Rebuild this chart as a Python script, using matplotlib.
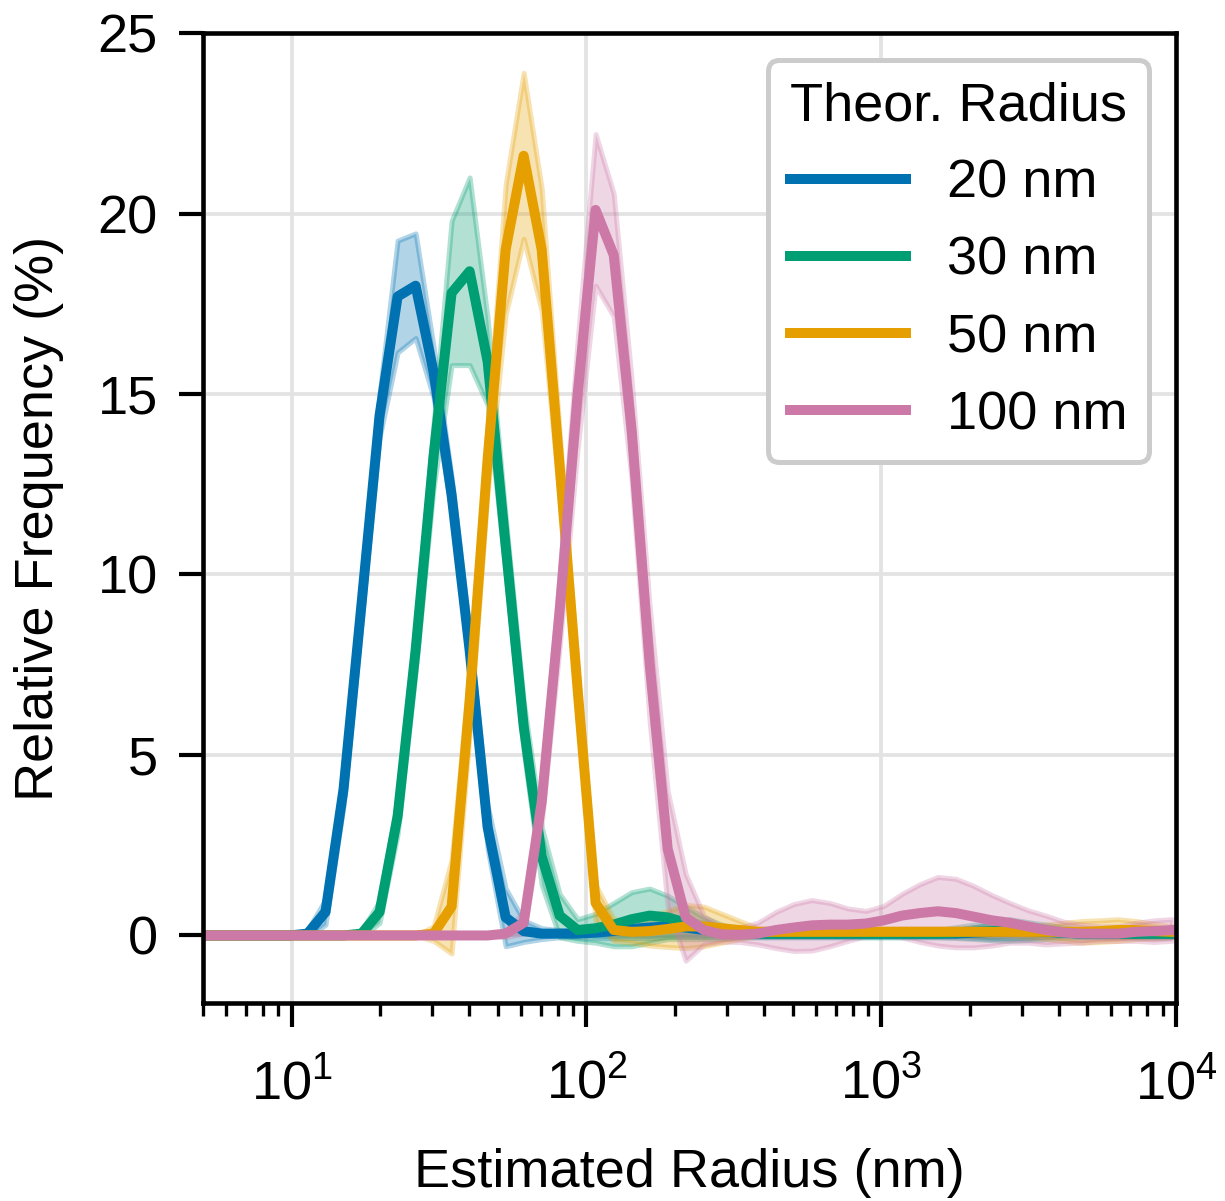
import matplotlib
matplotlib.use("Agg")
import matplotlib.pyplot as plt
import numpy as np

plt.rcParams['font.family'] = ['Liberation Sans', 'DejaVu Sans']
plt.rcParams['mathtext.fontset'] = 'custom'
plt.rcParams['mathtext.rm'] = 'Liberation Sans'
plt.rcParams['mathtext.it'] = 'Liberation Sans:italic'
plt.rcParams['mathtext.bf'] = 'Liberation Sans:bold'

# radius bins (nm)
radius = [4.86, 5.60, 6.45, 7.42, 8.54, 9.83, 11.31, 13.02, 14.99, 17.26,
          19.86, 22.87, 26.32, 30.30, 34.87, 40.14, 46.20, 53.19, 61.22, 70.47,
          81.10, 93.35, 107.4, 123.7, 142.3, 163.9, 188.6, 217.1, 249.9, 287.6,
          331.1, 381.1, 438.7, 505.0, 581.2, 669.0, 770.1, 886.4, 1020, 1175,
          1352, 1556, 1791, 2062, 2373, 2732, 3144, 3619, 4166, 4795,
          5521, 6354, 7314, 8419, 9692]

labels = ["20 nm", "30 nm", "50 nm", "100 nm"]
colors = ["#0072B2", "#009E73", "#E69F00", "#CC79A7"]

# mean relative frequency (%) per bin
mean_20 = [0, 0, 0, 0, 0, 0, 0.05, 0.65, 4.05, 9.2,
           14.4, 17.7, 18.0, 15.6, 12.2, 7.9, 3.0, 0.5, 0.12, 0.05,
           0.05, 0.05, 0.08, 0.12, 0.18, 0.22, 0.25, 0.22, 0.15, 0.1,
           0.05, 0.05, 0.05, 0.05, 0.05, 0.05, 0.05, 0.05, 0.05, 0.05,
           0.05, 0.05, 0.05, 0.08, 0.1, 0.12, 0.12, 0.1, 0.08, 0.05,
           0.05, 0.05, 0.05, 0.05, 0.05]
mean_30 = [0, 0, 0, 0, 0, 0, 0, 0, 0, 0.05,
           0.65, 3.3, 7.9, 13.3, 17.8, 18.4, 15.9, 10.8, 5.8, 2.2,
           0.55, 0.15, 0.2, 0.3, 0.45, 0.55, 0.5, 0.35, 0.2, 0.1,
           0.05, 0.05, 0.05, 0.05, 0.05, 0.05, 0.05, 0.05, 0.05, 0.05,
           0.05, 0.05, 0.08, 0.1, 0.12, 0.15, 0.12, 0.1, 0.08, 0.05,
           0.05, 0.05, 0.05, 0.05, 0.05]
mean_50 = [0, 0, 0, 0, 0, 0, 0, 0, 0, 0,
           0, 0, 0, 0.05, 0.8, 6.5, 13.2, 19.0, 21.6, 19.0,
           13.0, 6.8, 0.9, 0.15, 0.1, 0.12, 0.18, 0.25, 0.25, 0.2,
           0.15, 0.1, 0.1, 0.1, 0.1, 0.1, 0.1, 0.1, 0.1, 0.1,
           0.1, 0.1, 0.1, 0.1, 0.1, 0.1, 0.1, 0.1, 0.1, 0.1,
           0.12, 0.15, 0.15, 0.12, 0.1]
mean_100 = [0, 0, 0, 0, 0, 0, 0, 0, 0, 0,
            0, 0, 0, 0, 0, 0, 0, 0.05, 0.35, 3.7,
            9.0, 15.0, 20.1, 18.85, 14.0, 7.5, 2.4, 0.5, 0.15, 0.03,
            0.02, 0.05, 0.15, 0.22, 0.28, 0.3, 0.3, 0.33, 0.42, 0.55,
            0.62, 0.67, 0.62, 0.52, 0.42, 0.35, 0.25, 0.15, 0.08, 0.05,
            0.05, 0.05, 0.1, 0.12, 0.15]

# standard deviation per bin
sd_20 = [0, 0, 0, 0, 0, 0, 0.1, 0.35, 0.45, 0.5,
         0.6, 1.55, 1.45, 0.7, 0.5, 0.5, 0.6, 0.8, 0.3, 0.15,
         0.1, 0.1, 0.15, 0.2, 0.25, 0.3, 0.3, 0.25, 0.2, 0.15,
         0.1, 0.1, 0.1, 0.1, 0.1, 0.1, 0.1, 0.1, 0.1, 0.1,
         0.1, 0.1, 0.1, 0.15, 0.2, 0.2, 0.2, 0.15, 0.1, 0.1,
         0.1, 0.1, 0.1, 0.1, 0.1]
sd_30 = [0, 0, 0, 0, 0, 0, 0, 0, 0, 0.1,
         0.3, 0.5, 0.6, 0.9, 2.0, 2.6, 1.2, 0.8, 0.7, 0.8,
         0.6, 0.3, 0.4, 0.6, 0.75, 0.75, 0.6, 0.45, 0.3, 0.2,
         0.1, 0.1, 0.1, 0.1, 0.1, 0.1, 0.1, 0.1, 0.1, 0.1,
         0.1, 0.1, 0.15, 0.2, 0.25, 0.3, 0.25, 0.2, 0.15, 0.1,
         0.1, 0.1, 0.1, 0.1, 0.1]
sd_50 = [0, 0, 0, 0, 0, 0, 0, 0, 0, 0,
         0, 0, 0, 0.2, 1.3, 0.9, 0.9, 1.8, 2.3, 1.7,
         0.9, 0.6, 0.5, 0.3, 0.3, 0.4, 0.5, 0.6, 0.55, 0.4,
         0.25, 0.1, 0.1, 0.1, 0.1, 0.1, 0.1, 0.1, 0.1, 0.1,
         0.1, 0.1, 0.1, 0.1, 0.1, 0.1, 0.15, 0.2, 0.25, 0.3,
         0.3, 0.3, 0.25, 0.2, 0.15]
sd_100 = [0, 0, 0, 0, 0, 0, 0, 0, 0, 0,
          0, 0, 0, 0, 0, 0, 0, 0.1, 0.3, 0.6,
          1.0, 1.5, 2.1, 1.7, 1.4, 1.6, 1.6, 1.2, 0.4, 0.2,
          0.2, 0.3, 0.5, 0.65, 0.7, 0.6, 0.45, 0.35, 0.4, 0.6,
          0.8, 0.95, 0.95, 0.85, 0.7, 0.55, 0.45, 0.4, 0.3, 0.25,
          0.2, 0.2, 0.25, 0.3, 0.3]

means = [mean_20, mean_30, mean_50, mean_100]
sds = [sd_20, sd_30, sd_50, sd_100]

fig = plt.figure(figsize=(1225 / 300, 1201 / 300), dpi=300)
ax = fig.add_axes([0.1657, 0.1649, 0.7943, 0.8076])

x = np.array(radius)
for m, s, c, lab in zip(means, sds, colors, labels):
    m = np.array(m)
    s = np.array(s)
    ax.fill_between(x, m - s, m + s, color=c, alpha=0.3, lw=1.2)
    ax.plot(x, m, color=c, lw=2.4, label=lab)

ax.set_xscale("log")
ax.set_xlim(5, 1e4)
ax.set_ylim(-1.87, 25)
ax.set_yticks([0, 5, 10, 15, 20, 25])

ax.grid(True, which="major", color="#e3e3e3", lw=0.9)
ax.set_axisbelow(True)

for sp in ax.spines.values():
    sp.set_linewidth(1.1)
ax.tick_params(which="major", length=5.8, width=1.0, labelsize=13, pad=5)
ax.tick_params(axis="x", which="major", pad=7.5)
ax.tick_params(which="minor", length=3.0, width=0.8)

ax.set_xlabel("Estimated Radius (nm)", fontsize=13, labelpad=9)
ax.set_ylabel("Relative Frequency (%)", fontsize=13, labelpad=8)

leg = ax.legend(title="Theor. Radius", loc="upper right", fontsize=13,
                title_fontsize=13, handlelength=2.15, handletextpad=0.75,
                labelspacing=0.5, framealpha=1, edgecolor="#cccccc")
leg.get_frame().set_linewidth(1.2)

fig.savefig("out.png", dpi=300)
